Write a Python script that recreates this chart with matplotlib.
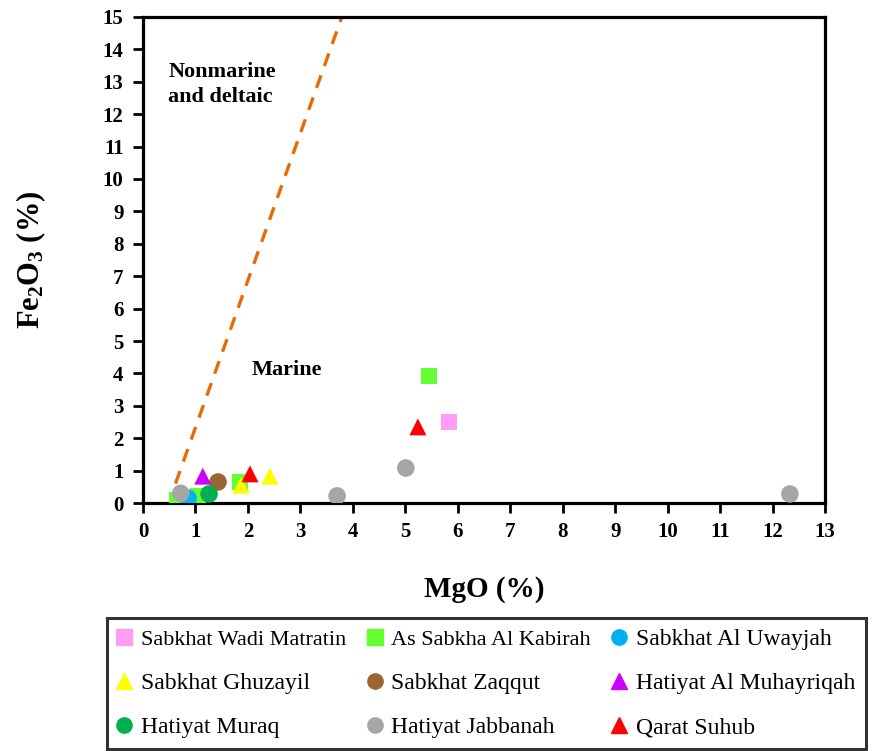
import matplotlib
matplotlib.use("Agg")
import matplotlib.pyplot as plt
from matplotlib.lines import Line2D

plt.rcParams["font.family"] = ["Liberation Serif", "DejaVu Serif"]
plt.rcParams["mathtext.fontset"] = "custom"
plt.rcParams["mathtext.rm"] = "Liberation Serif"
plt.rcParams["mathtext.bf"] = "Liberation Serif:bold"

# ---- sample data: MgO (%) vs Fe2O3 (%) per site ----
sites = ["Sabkhat Wadi Matratin", "As Sabkha Al Kabirah", "Sabkhat Al Uwayjah",
         "Sabkhat Ghuzayil", "Sabkhat Zaqqut", "Hatiyat Al Muhayriqah",
         "Hatiyat Muraq", "Hatiyat Jabbanah", "Qarat Suhub"]
markers = ["s", "s", "o", "^", "o", "^", "o", "o", "^"]
colors = ["#FF9CF4", "#66FF33", "#00B0F0", "#FFFF00", "#996633", "#CC00FF",
          "#00B050", "#A6A6A6", "#FF0000"]

mgo = [
    [5.83],
    [0.65, 1.05, 1.85, 5.45],
    [0.86],
    [1.87, 2.42],
    [1.43],
    [1.14],
    [1.26],
    [0.72, 3.70, 5.01, 12.33],
    [2.04, 5.24],
]
fe2o3 = [
    [2.50],
    [0.10, 0.20, 0.65, 3.92],
    [0.15],
    [0.55, 0.83],
    [0.65],
    [0.83],
    [0.28],
    [0.30, 0.22, 1.08, 0.28],
    [0.90, 2.35],
]

# boundary between marine and nonmarine/deltaic fields
boundary_x = [0.62, 3.79]
boundary_y = [0.6, 15.0]

# draw order so the overlapping cluster near the origin stacks correctly
draw_order = [0, 1, 3, 4, 5, 8, 2, 6, 7]

fig = plt.figure(figsize=(8.75, 7.51), dpi=100)
ax = fig.add_axes([0.1634, 0.3302, 0.7795, 0.6472])

ax.plot(boundary_x, boundary_y, color="#E36C09", lw=2.4, ls=(0, (4, 3)), zorder=2)

sizes = {"s": 135, "o": 160, "^": 150}
for i in draw_order:
    ax.scatter(mgo[i], fe2o3[i], marker=markers[i], s=sizes[markers[i]],
               color=colors[i], edgecolors="none", zorder=3)

ax.text(0.48, 13.6, "Nonmarine\nand deltaic", fontsize=16, fontweight="bold",
        ha="left", va="top", linespacing=1.3)
ax.text(2.75, 4.12, "Marine", fontsize=16, fontweight="bold", ha="center", va="center")

ax.set_xlim(0, 13)
ax.set_ylim(0, 15)
ax.set_xticks(range(0, 14))
ax.set_yticks(range(0, 16))
for s in ax.spines.values():
    s.set_linewidth(2.3)
ax.tick_params(direction="out", length=7, width=2, labelsize=15, pad=7)
for lab in ax.get_xticklabels() + ax.get_yticklabels():
    lab.set_fontweight("bold")

ax.set_xlabel("MgO (%)", fontsize=21, fontweight="bold", labelpad=24)
ax.set_ylabel(r"$\mathbf{Fe_2O_3}$ (%)", fontsize=22, fontweight="bold", labelpad=39)

# legend laid out row by row: reorder for matplotlib's column-first filling
handles = [Line2D([], [], ls="none", marker=markers[i], color=colors[i],
                  markersize=11 if markers[i] != "^" else 12) for i in range(9)]
col_first = [0, 3, 6, 1, 4, 7, 2, 5, 8]
leg = fig.legend([handles[i] for i in col_first], [sites[i] for i in col_first],
                 ncol=3, loc="upper left", bbox_to_anchor=(0.122, 0.177),
                 fontsize=17, frameon=True, fancybox=False,
                 handlelength=0.6, handletextpad=0.4, columnspacing=0.9,
                 labelspacing=0.95, borderpad=0.45, borderaxespad=0)
leg.get_frame().set_edgecolor("black")
leg.get_frame().set_linewidth(2.2)
for t in leg.get_texts()[:1] + leg.get_texts()[3:4]:
    t.set_fontsize(16)

fig.savefig("out.png", dpi=100)
